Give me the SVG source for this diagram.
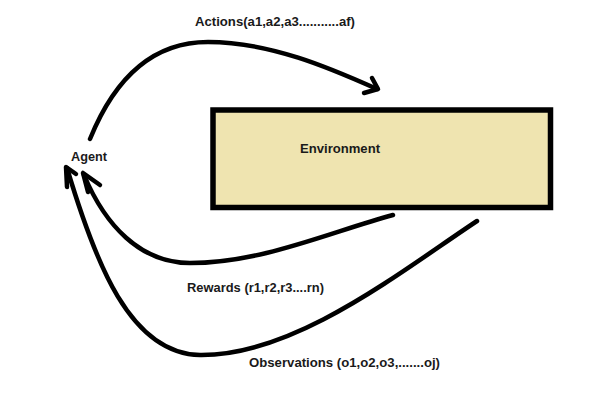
<svg xmlns="http://www.w3.org/2000/svg" width="610" height="420" viewBox="0 0 610 420">
<style>
.lbl{font-family:"Liberation Sans",Arial,sans-serif;font-weight:bold;font-size:12.5px;fill:#1a1a1a}
.c{fill:none;stroke:#000;stroke-width:4.5;stroke-linecap:round;stroke-linejoin:round}
</style>
<rect width="610" height="420" fill="#fff"/>
<g id="environment">
<rect x="213" y="110" width="337.5" height="97.5" fill="#EFE4B0" stroke="#000" stroke-width="5.5"/>
<text class="lbl" x="300" y="153" textLength="80" lengthAdjust="spacingAndGlyphs">Environment</text>
</g>
<g id="agent">
<text class="lbl" x="71" y="161" textLength="36" lengthAdjust="spacingAndGlyphs">Agent</text>
</g>
<g id="connectors">
<path class="c" d="M90,139 C118,70 160,42 208,42 C270,42 330,68 377,89"/>
<polyline class="c" points="372,78 378,89 364,93"/>
<path class="c" d="M393,215 C330,232 262,263 190,263 C140,263 105,225 84,175"/>
<polyline class="c" points="100,185 83,173 88,192"/>
<path class="c" d="M477,221 C400,272 295,356 200,355 C130,354 95,262 67,168"/>
<polyline class="c" points="67,187 66,167 76,174"/>
</g>
<g id="labels">
<text class="lbl" x="195" y="26" textLength="160" lengthAdjust="spacingAndGlyphs">Actions(a1,a2,a3...........af)</text>
<text class="lbl" x="187" y="292" textLength="137" lengthAdjust="spacingAndGlyphs">Rewards (r1,r2,r3....rn)</text>
<text class="lbl" x="249" y="367" textLength="191" lengthAdjust="spacingAndGlyphs">Observations (o1,o2,o3,.......oj)</text>
</g>
</svg>
